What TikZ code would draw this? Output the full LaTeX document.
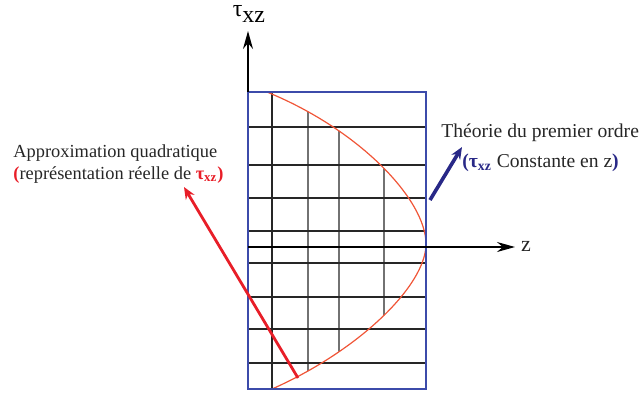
\documentclass[tikz,border=0pt]{standalone}
\usepackage{fontspec}
\setmainfont{Liberation Serif}
\usetikzlibrary{arrows.meta,intersections}
\definecolor{bleucadre}{RGB}{60,75,170}
\definecolor{rougecourbe}{RGB}{240,85,55}
\definecolor{rougefleche}{RGB}{232,30,40}
\definecolor{bleufonce}{RGB}{40,40,135}
\tikzset{
  grille/.style={black!85, line width=0.6pt},
  cadre/.style={draw=bleucadre, line width=1.4pt},
  courbe/.style={rougecourbe, line width=0.6pt},
  axe/.style={black, line width=0.75pt, -{Stealth[length=9pt,width=5pt]}},
  flecherouge/.style={rougefleche, line width=1.4pt, -{Stealth[length=6pt,width=5pt]}},
  flechebleue/.style={bleufonce, line width=1.8pt, -{Stealth[length=6pt,width=5pt]}},
  texte/.style={black!85, inner sep=0pt, font=\fontsize{9.8}{11}\selectfont}
}
\begin{document}
\begin{tikzpicture}[x=0.5pt,y=-0.5pt]
  \useasboundingbox (0,0) rectangle (644,393);
  \coordinate (Ph) at (267,92);
  \coordinate (Pv) at (426,244);
  \coordinate (Pb) at (272,389);
  \path[name path=courbe] (Ph) .. controls (360,130) and (426,200) .. (Pv)
    .. controls (426,285) and (360,350) .. (Pb);
  \foreach \y in {127,165,198,231,263,297,329,363} \draw[grille] (248,\y) -- (426,\y);
  \draw[grille] (272,92) -- (Pb);
  \foreach \x in {308,339,384} {
    \path[name path=v] (\x,80) -- (\x,400);
    \draw[grille, name intersections={of=courbe and v}] (intersection-1) -- (intersection-2);
  }
  \draw[courbe] (Ph) .. controls (360,130) and (426,200) .. (Pv)
    .. controls (426,285) and (360,350) .. (Pb);
  \draw[cadre] (248,92) rectangle (426,389);
  % axes
  \coordinate (O) at (248,247);
  \coordinate (Obas) at (248,92);
  \coordinate (Ohaut) at (248,31);
  \coordinate (Zfin) at (515,247);
  \draw[axe] (Obas) -- (Ohaut);
  \draw[axe] (O) -- (Zfin);
  \node[inner sep=0pt, font=\fontsize{12}{14}\selectfont] (tau) at (249,14) {τ\raisebox{-0.5ex}{xz}};
  \node[texte, font=\fontsize{11}{13}\selectfont] (z) at (526,246) {z};
  % textes
  \node[texte, right, font=\fontsize{9.2}{11}\selectfont] (approx) at (13,153) {Approximation quadratique};
  \node[texte, right, font=\fontsize{9.2}{11}\selectfont] (reelle) at (13,175) {{\color{rougefleche}\textbf{(}}représentation réelle de {\color{rougefleche}\textbf{τ\textsubscript{xz})}}};
  \node[texte, right] (theorie) at (441,133) {Théorie du premier ordre};
  \node[texte, right] (cste) at (462,163) {{\color{bleufonce}\textbf{(τ\textsubscript{xz}}} Constante en z{\color{bleufonce}\textbf{)}}};
  % fleches
  \coordinate (r0) at (298,378);
  \coordinate (r1) at (184,187);
  \coordinate (s0) at (430,200);
  \coordinate (s1) at (462,147);
  \draw[flecherouge] (r0) -- (r1);
  \draw[flechebleue] (s0) -- (s1);
\end{tikzpicture}
\end{document}
